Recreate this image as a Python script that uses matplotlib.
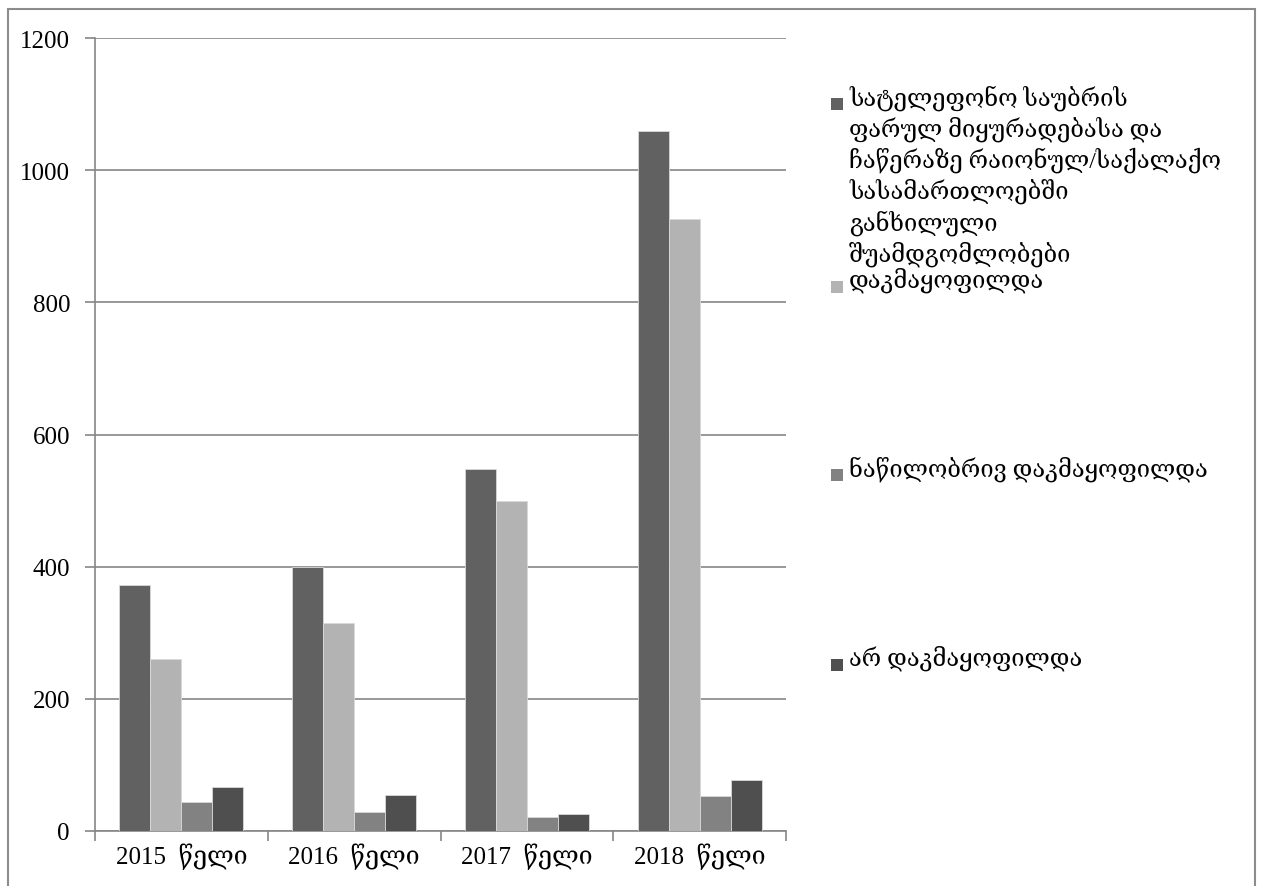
import matplotlib
matplotlib.use("Agg")
import matplotlib.pyplot as plt
import numpy as np
from matplotlib.patches import Rectangle

categories = ["2015  წელი", "2016  წელი", "2017  წელი", "2018  წელი"]
series_names = [
    "სატელეფონო საუბრის\nფარულ მიყურადებასა და\nჩაწერაზე რაიონულ/საქალაქო\nსასამართლოებში\nგანხილული\nშუამდგომლობები",
    "დაკმაყოფილდა",
    "ნაწილობრივ დაკმაყოფილდა",
    "არ დაკმაყოფილდა",
]
total = [372, 400, 548, 1059]
granted = [260, 315, 499, 926]
partial = [44, 29, 21, 53]
refused = [67, 55, 26, 77]
yticks = [0, 200, 400, 600, 800, 1000, 1200]

series = [total, granted, partial, refused]
colors = ["#616161", "#b3b3b3", "#828282", "#4f4f4f"]

FONT = ["Liberation Serif", "DejaVu Serif"]
plt.rcParams["font.family"] = FONT

W, H = 1263, 887
fig = plt.figure(figsize=(W / 100, H / 100), dpi=100)

# outer border
fig.patches.append(Rectangle((8 / W, -0.05), (1255 - 8) / W, (H - 10) / H + 0.05,
                             transform=fig.transFigure, fill=False,
                             edgecolor="#8c8c8c", linewidth=1.5))

ax = fig.add_axes([95 / W, (H - 832) / H, (786 - 95) / W, (832 - 39) / H])

x = np.arange(len(categories))
n = len(series)
group = 0.717
bw = group / n
for i, (vals, c) in enumerate(zip(series, colors)):
    ax.bar(x - group / 2 + bw * (i + 0.5), vals, width=bw, color=c,
           edgecolor="#d9d9d9", linewidth=0.6, zorder=3)

ax.set_xlim(-0.5, len(categories) - 0.5)
ax.set_ylim(0, 1200)
ax.set_yticks(yticks)
ax.set_yticklabels([str(v) for v in yticks], fontsize=18, family=FONT)
ax.yaxis.grid(True, color="#868686", linewidth=1.2, zorder=0)
ax.set_axisbelow(True)

# x ticks between categories
ax.set_xticks(np.arange(-0.5, len(categories), 1.0))
ax.set_xticklabels([])
ax.set_xticks(x, minor=True)
ax.set_xticklabels(categories, minor=True, fontsize=18, family=FONT)
ax.tick_params(axis="x", which="minor", length=0, pad=8)
ax.tick_params(axis="x", which="major", length=7, color="#868686", width=1.2)
ax.tick_params(axis="y", length=7, color="#868686", width=1.2, pad=11)

for s in ["top", "right"]:
    ax.spines[s].set_visible(False)
for s in ["left", "bottom"]:
    ax.spines[s].set_color("#868686")
    ax.spines[s].set_linewidth(1.2)

# legend (manual, Excel-like distribution)
leg_y = [95, 278, 466, 656]
for name, c, yy in zip(series_names, colors, leg_y):
    fig.patches.append(Rectangle((831 / W, 1 - (yy + 16) / H), 12 / W, 12 / H,
                                 transform=fig.transFigure, facecolor=c,
                                 edgecolor="none"))
    fig.text(849 / W, 1 - (yy - 10) / H, name, fontsize=17, family=FONT,
             va="top", ha="left", linespacing=1.29)

fig.savefig("out.png", dpi=100)
